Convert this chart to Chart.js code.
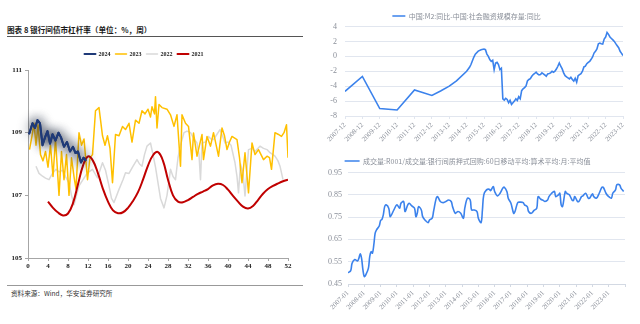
<!DOCTYPE html>
<html>
<head>
<meta charset="utf-8">
<script src="https://cdn.jsdelivr.net/npm/chart.js@4"></script>
<style>
  body { margin: 0; width: 640px; height: 324px; background: #fff; position: relative; overflow: hidden; }
  canvas { position: absolute; }
  #title { position: absolute; left: 7px; top: 24px; font: bold 7.6px "Noto Sans CJK SC"; color: #1a1a1a; white-space: nowrap; }
  #rule1 { position: absolute; left: 7px; top: 36px; width: 296px; height: 1px; background: #555; }
  #rule2 { position: absolute; left: 7px; top: 285px; width: 296px; height: 1px; background: #999; }
  #source { position: absolute; left: 11px; top: 288px; font: 6.6px "Noto Sans CJK SC"; color: #333; white-space: nowrap; }
</style>
</head>
<body>
<div id="title">图表 8 银行间债市杠杆率（单位：%，周）</div>
<div id="rule1"></div>
<canvas id="lev" width="300" height="234" style="left:0;top:46px"></canvas>
<div id="rule2"></div>
<div id="source">资料来源：Wind，华安证券研究所</div>
<canvas id="spread" width="330" height="150" style="left:310px;top:0"></canvas>
<canvas id="repo" width="330" height="174" style="left:310px;top:150px"></canvas>
<script>
// ---- left: bank bond-market leverage, by week ----
const weeks2024 = [0.2, 0.9, 1.4, 1.9, 2.4, 2.9, 3.4, 3.9, 4.4, 4.9, 5.5, 6.1, 6.6, 7.2, 7.8, 8.4, 9.0, 9.5, 10.0, 10.6, 11.1, 11.6];
const lev2024 = [108.95, 109.3, 109.15, 109.4, 109.3, 108.6, 108.85, 109.05, 108.65, 108.95, 108.75, 109.0, 108.85, 108.55, 108.7, 108.4, 108.55, 108.35, 108.4, 108.05, 108.2, 108.1];

const weeks2023 = [0.3, 0.8, 1.2, 1.6, 2.0, 2.5, 3.0, 3.5, 4.0, 4.5, 5.0, 5.5, 6.2, 6.7, 7.2, 7.7, 8.2, 8.7, 9.2, 9.6, 10.2, 10.7, 11.2, 11.9, 12.4, 12.9, 13.5, 14.2, 14.9, 15.4, 15.9, 16.4, 16.9, 17.5, 18.2, 18.9, 19.5, 20.2, 20.8, 21.5, 22.2, 22.8, 23.4, 24.0, 24.5, 24.8, 25.3, 25.5, 25.8, 26.2, 26.8, 27.8, 28.5, 29.2, 29.8, 30.5, 30.8, 31.5, 32.1, 32.8, 33.1, 33.8, 34.3, 34.8, 35.1, 35.8, 36.5, 37.1, 38.1, 38.8, 39.3, 39.8, 40.3, 40.8, 41.8, 42.3, 42.8, 43.4, 44.1, 44.8, 45.4, 46.1, 47.1, 47.8, 48.3, 48.7, 49.4, 50.0, 50.7, 51.2, 51.7, 52.0];
const lev2023 = [108.46, 108.9, 109.3, 108.6, 109.25, 108.3, 108.1, 108.4, 107.9, 108.6, 107.6, 108.8, 107.0, 108.4, 107.5, 108.3, 107.0, 108.2, 107.6, 107.2, 109.0, 108.6, 108.8, 107.5, 108.2, 108.3, 109.7, 109.8, 108.9, 108.6, 108.9, 108.5, 107.4, 108.94, 108.9, 109.2, 109.1, 109.3, 108.7, 109.4, 109.3, 109.7, 109.6, 109.75, 109.5, 109.83, 109.6, 110.15, 109.15, 109.9, 109.8, 109.75, 109.57, 109.2, 109.57, 107.93, 109.57, 109.3, 109.2, 108.14, 108.99, 108.25, 108.6, 108.94, 108.14, 108.88, 108.57, 109.0, 108.25, 109.15, 108.9, 108.46, 108.7, 108.88, 108.78, 108.2, 107.4, 108.36, 107.08, 108.67, 108.3, 108.46, 108.14, 108.25, 108.2, 107.83, 109.0, 108.95, 108.88, 109.0, 109.25, 108.2];

const weeks2022 = [1.6, 2.2, 2.9, 3.5, 4.2, 4.9, 5.6, 6.2, 6.9, 7.5, 8.2, 8.7, 9.2, 9.7, 10.2, 11.0, 11.9, 12.9, 13.9, 14.9, 15.5, 16.2, 16.7, 17.2, 18.2, 19.0, 19.5, 20.2, 20.9, 21.8, 22.3, 22.8, 23.3, 23.8, 24.5, 25.0, 25.5, 26.0, 26.5, 27.2, 27.8, 28.5, 29.0, 29.5, 30.0, 30.5, 31.2, 31.8, 32.5, 33.2, 33.8, 34.2, 34.5, 34.8, 35.5, 36.1, 36.6, 37.1, 37.8, 38.4, 38.9, 39.4, 40.0, 40.6, 41.4, 41.8, 42.1, 42.5, 43.0, 43.4, 44.1, 44.8, 45.4, 46.0, 46.4, 47.1, 47.8, 48.4, 49.0, 49.4, 50.0, 50.4, 51.0];
const lev2022 = [107.93, 107.7, 107.61, 107.55, 107.5, 107.7, 107.83, 107.75, 107.8, 107.6, 107.4, 107.0, 106.7, 107.0, 107.3, 107.5, 107.72, 107.83, 107.56, 108.04, 107.8, 107.3, 106.9, 106.77, 107.19, 107.5, 107.72, 107.7, 107.9, 108.14, 108.0, 107.93, 108.3, 108.57, 108.67, 108.3, 107.9, 107.4, 106.9, 106.6, 107.0, 107.83, 107.6, 107.5, 108.2, 108.6, 109.0, 109.05, 109.0, 108.8, 108.67, 108.3, 107.5, 108.67, 108.7, 108.88, 108.8, 108.78, 108.95, 109.1, 108.9, 108.67, 108.7, 108.6, 108.04, 107.6, 107.08, 108.0, 107.7, 106.98, 108.46, 108.5, 108.4, 108.5, 108.57, 108.5, 108.46, 108.36, 108.3, 108.25, 108.1, 107.93, 107.5];

const weeks2021 = [4, 5, 6, 7, 8, 9, 10, 11, 12, 13, 14, 15, 16, 17, 18, 19, 20, 21, 22, 23, 24, 25, 26, 27, 28, 29, 30, 31, 32, 33, 34, 35, 36, 37, 38, 39, 40, 41, 42, 43, 44, 45, 46, 47, 48, 49, 50, 51, 52];
const lev2021 = [106.8, 106.6, 106.45, 106.36, 106.42, 106.75, 107.35, 107.95, 108.24, 108.1, 107.7, 107.2, 106.8, 106.52, 106.43, 106.46, 106.6, 106.82, 107.1, 107.5, 107.95, 108.28, 108.38, 108.1, 107.5, 107.0, 106.8, 106.78, 106.85, 106.95, 107.05, 107.12, 107.2, 107.32, 107.37, 107.33, 107.18, 106.98, 106.8, 106.64, 106.58, 106.66, 106.85, 107.05, 107.2, 107.3, 107.38, 107.45, 107.5];

// ---- top right: M2 yoy minus social financing stock yoy ----
const spreadDates = ['2007-12', '2008-12', '2009-12', '2010-12', '2011-12', '2012-12', '2013-06', '2013-12', '2014-05', '2014-12',
  '2015-02', '2015-03', '2015-04', '2015-05', '2015-06', '2015-08', '2015-10', '2015-12',
  '2016-01', '2016-02', '2016-03', '2016-04', '2016-05', '2016-06', '2016-07', '2016-08', '2016-09', '2016-10', '2016-11', '2016-12',
  '2017-01', '2017-02', '2017-03', '2017-04', '2017-05', '2017-06', '2017-07', '2017-08', '2017-09', '2017-10', '2017-11', '2017-12',
  '2018-01', '2018-02', '2018-03', '2018-04', '2018-05', '2018-06', '2018-07', '2018-08', '2018-09', '2018-10', '2018-11', '2018-12',
  '2019-01', '2019-02', '2019-03', '2019-04', '2019-05', '2019-06', '2019-07', '2019-08', '2019-09', '2019-10', '2019-11', '2019-12',
  '2020-01', '2020-02', '2020-03', '2020-04', '2020-05', '2020-06', '2020-07', '2020-08', '2020-09', '2020-10', '2020-11', '2020-12',
  '2021-01', '2021-02', '2021-03', '2021-04', '2021-05', '2021-06', '2021-07', '2021-08', '2021-09', '2021-10', '2021-11', '2021-12',
  '2022-01', '2022-02', '2022-03', '2022-04', '2022-05', '2022-06', '2022-07', '2022-08', '2022-09', '2022-10', '2022-11', '2022-12',
  '2023-01', '2023-02', '2023-03', '2023-04', '2023-05', '2023-06', '2023-07', '2023-08', '2023-09', '2023-10', '2023-11', '2023-12'];
const spreadValues = [-4.7, -2.7, -7.0, -7.2, -4.5, -5.25, -4.65, -4.0, -3.3, -2.0,
  -1.47, -1.1, -0.6, -0.1, 0.3, 0.7, 0.89, 0.98,
  0.89, 0.3, 0.0, -0.44, -0.67, -0.53, -1.78, -0.89, -0.8, -1.1, -1.78, -1.6,
  -5.7, -5.87, -5.64, -5.78, -6.22, -5.91, -6.44, -6.22, -6.0, -5.69, -5.91, -5.42,
  -5.69, -4.6, -4.36, -4.2, -4.0, -3.3, -3.1, -3.0, -2.67, -2.44, -2.3, -2.13,
  -2.36, -2.5, -2.44, -2.22, -2.36, -2.5, -2.67, -2.36, -2.3, -2.22, -2.0, -2.13,
  -2.0, -1.7, -1.33, -0.89, -1.33, -1.69, -2.22, -2.6, -2.76, -2.89, -3.02, -2.8,
  -3.11, -3.33, -2.93, -3.47, -2.6, -2.44, -2.31, -2.0, -1.42, -1.33, -0.98, -0.8,
  -0.67, -0.4, -0.09, 0.44, 0.67, 1.0, 1.69, 1.78, 1.7, 1.64, 2.31, 2.58,
  3.2, 2.95, 2.6, 2.4, 2.2, 2.0, 1.7, 1.42, 1.15, 0.67, 0.4, 0.1];

// ---- bottom right: R001 share of interbank pledged repo volume ----
const repoDates = ['2007-01', '2007-03', '2007-04', '2007-06', '2007-08', '2007-09', '2007-10', '2007-11', '2007-12',
  '2008-01', '2008-02', '2008-04', '2008-05', '2008-06', '2008-07', '2008-08', '2008-09', '2008-10', '2008-12',
  '2009-01', '2009-02', '2009-03', '2009-04', '2009-05', '2009-07', '2009-08', '2009-09', '2009-11',
  '2010-01', '2010-03', '2010-04', '2010-06', '2010-07', '2010-09', '2010-10', '2010-12',
  '2011-02', '2011-03', '2011-04', '2011-05', '2011-07', '2011-08', '2011-10', '2011-12',
  '2012-01', '2012-03', '2012-04', '2012-06', '2012-07', '2012-09', '2012-11',
  '2013-01', '2013-03', '2013-05', '2013-06', '2013-08', '2013-10', '2013-12',
  '2014-02', '2014-03', '2014-05', '2014-07', '2014-08', '2014-10', '2014-12',
  '2015-01', '2015-03', '2015-04', '2015-05', '2015-07', '2015-09', '2015-10', '2015-12',
  '2016-01', '2016-03', '2016-05', '2016-07', '2016-08', '2016-10', '2016-11',
  '2017-01', '2017-03', '2017-04', '2017-06', '2017-08', '2017-10', '2017-11',
  '2018-01', '2018-02', '2018-04', '2018-06', '2018-08', '2018-09', '2018-11',
  '2019-01', '2019-02', '2019-04', '2019-05', '2019-07', '2019-09', '2019-10', '2019-12',
  '2020-01', '2020-02', '2020-03', '2020-05', '2020-06', '2020-08', '2020-10', '2020-11', '2020-12',
  '2021-02', '2021-03', '2021-05', '2021-06', '2021-08', '2021-10', '2021-11',
  '2022-01', '2022-02', '2022-04', '2022-06', '2022-08', '2022-09', '2022-11',
  '2023-01', '2023-03', '2023-04', '2023-06', '2023-07', '2023-09', '2023-10', '2023-12'];
const repoValues = [0.50, 0.51, 0.543, 0.56, 0.553, 0.565, 0.585, 0.565, 0.513,
  0.483, 0.49, 0.52, 0.573, 0.595, 0.588, 0.625, 0.678, 0.693, 0.71,
  0.735, 0.74, 0.76, 0.797, 0.805, 0.79, 0.752, 0.76, 0.785,
  0.805, 0.79, 0.812, 0.82, 0.775, 0.805, 0.812, 0.80,
  0.79, 0.752, 0.767, 0.797, 0.782, 0.752, 0.735, 0.725,
  0.737, 0.745, 0.775, 0.835, 0.842, 0.82, 0.815,
  0.82, 0.827, 0.82, 0.797, 0.767, 0.775, 0.767,
  0.745, 0.79, 0.835, 0.827, 0.782, 0.782, 0.775,
  0.745, 0.725, 0.782, 0.85, 0.872, 0.875, 0.869, 0.887,
  0.865, 0.845, 0.857, 0.88, 0.884, 0.865, 0.835,
  0.812, 0.767, 0.775, 0.815, 0.817, 0.815, 0.805,
  0.797, 0.775, 0.767, 0.78, 0.79, 0.842, 0.83,
  0.824, 0.82, 0.827, 0.842, 0.857, 0.865, 0.842, 0.85,
  0.857, 0.805, 0.797, 0.865, 0.857, 0.85, 0.827, 0.824, 0.842,
  0.82, 0.82, 0.842, 0.845, 0.857, 0.835, 0.835,
  0.854, 0.842, 0.835, 0.857, 0.884, 0.884, 0.857,
  0.842, 0.835, 0.857, 0.872, 0.895, 0.895, 0.88, 0.865];

const toMonth = s => { const [y, m] = s.split('-').map(Number); return y * 12 + m - 1; };
const pairs = (xs, ys) => xs.map((x, i) => ({ x, y: ys[i] }));
const monthPairs = (dates, ys, start) => dates.map((d, i) => ({ x: toMonth(d) - toMonth(start), y: ys[i] }));

// move the plot away from (or closer to) the legend
const legendGap = {
  id: 'legendGap',
  afterInit(chart) {
    const extra = chart.options.plugins.legendGap.extra;
    const fit = chart.legend.fit;
    chart.legend.fit = function () { fit.call(this); this.height += extra; };
  }
};

// grey halo round the 2024 line (line drawn twice so the shadow is darker)
const glow = {
  id: 'glow',
  beforeDatasetDraw(chart, args) {
    if (chart.data.datasets[args.index].glow) {
      chart.ctx.save();
      chart.ctx.shadowColor = 'rgba(30,40,60,1)';
      chart.ctx.shadowBlur = 12;
      args.meta.dataset.draw(chart.ctx, chart.chartArea);
    }
  },
  afterDatasetDraw(chart, args) {
    if (chart.data.datasets[args.index].glow) chart.ctx.restore();
  }
};

const serifBold = { family: 'Liberation Serif', size: 7, weight: 'bold' };

new Chart(document.getElementById('lev'), {
  type: 'line',
  data: {
    datasets: [
      { label: '2024', data: pairs(weeks2024, lev2024), borderColor: '#1f3a78', backgroundColor: '#1f3a78', borderWidth: 2, order: 0, glow: true },
      { label: '2023', data: pairs(weeks2023, lev2023), borderColor: '#ffc000', backgroundColor: '#ffc000', borderWidth: 1.5, order: 2 },
      { label: '2022', data: pairs(weeks2022, lev2022), borderColor: '#d9d9d9', backgroundColor: '#d9d9d9', borderWidth: 1.5, order: 3 },
      { label: '2021', data: pairs(weeks2021, lev2021), borderColor: '#c00000', backgroundColor: '#c00000', borderWidth: 2, tension: 0.4, order: 1 }
    ]
  },
  options: {
    responsive: false,
    animation: false,
    elements: { point: { radius: 0 }, line: { borderJoinStyle: 'round' } },
    layout: { padding: { left: 0, right: 12, top: 0, bottom: 0 } },
    plugins: {
      legend: { labels: { boxWidth: 11, boxHeight: 0, padding: 5, color: '#222', font: { family: 'Liberation Serif', size: 6, weight: 'bold' },
        sort: (a, b) => a.datasetIndex - b.datasetIndex } },
      legendGap: { extra: 3 },
      tooltip: { enabled: false }
    },
    scales: {
      x: {
        type: 'linear', min: 0, max: 52,
        ticks: { stepSize: 4, autoSkip: false, maxRotation: 0, padding: 1, color: '#222', font: serifBold },
        grid: { drawOnChartArea: false, tickLength: 3, color: '#a6a6a6' },
        border: { color: '#a6a6a6' },
        afterFit: s => { s.height = 22; }
      },
      y: {
        min: 105, max: 111,
        ticks: { stepSize: 2, padding: 3, color: '#222', font: serifBold },
        grid: { drawOnChartArea: false, tickLength: 3, color: '#a6a6a6' },
        border: { color: '#a6a6a6' },
        afterFit: s => { s.width = 28; }
      }
    }
  },
  plugins: [glow, legendGap]
});

const blue = '#3b82ec';
const gridBlue = '#e1e6ef';
const tickGrey = '#8a8f99';
const cjk = { family: 'Noto Sans CJK SC', size: 7 };
const serif = { family: 'Liberation Serif', size: 7 };

new Chart(document.getElementById('spread'), {
  type: 'line',
  data: {
    datasets: [{ label: '中国:M2:同比-中国:社会融资规模存量:同比', data: monthPairs(spreadDates, spreadValues, '2007-12'), borderColor: blue, backgroundColor: blue, borderWidth: 1.6 }]
  },
  options: {
    responsive: false,
    animation: false,
    elements: { point: { radius: 0 } },
    layout: { padding: { left: 0, right: 17, top: 7.5, bottom: 0 } },
    plugins: {
      legend: { labels: { boxWidth: 13, boxHeight: 0, padding: 5, color: tickGrey, font: cjk } },
      legendGap: { extra: -3 },
      tooltip: { enabled: false }
    },
    scales: {
      x: {
        type: 'linear', min: 0, max: 192,
        ticks: { stepSize: 12, autoSkip: false, minRotation: 45, maxRotation: 45, padding: 2, color: tickGrey, font: serif,
          callback: v => (2007 + v / 12) + '-12' },
        grid: { drawOnChartArea: false, tickLength: 3, color: gridBlue },
        border: { color: gridBlue },
        afterFit: s => { s.height = 34; }
      },
      y: {
        min: -8, max: 4,
        ticks: { stepSize: 2, padding: 8, color: tickGrey, font: { family: 'Liberation Serif', size: 8 } },
        grid: { color: gridBlue, drawTicks: false },
        border: { display: false },
        afterFit: s => { s.width = 35; }
      }
    }
  },
  plugins: [legendGap]
});

new Chart(document.getElementById('repo'), {
  type: 'line',
  data: {
    datasets: [{ label: '成交量:R001/成交量:银行间质押式回购:60日移动平均:算术平均:月:平均值', data: monthPairs(repoDates, repoValues, '2007-01'), borderColor: blue, backgroundColor: blue, borderWidth: 1.6, tension: 0.35 }]
  },
  options: {
    responsive: false,
    animation: false,
    elements: { point: { radius: 0 } },
    layout: { padding: { left: 0, right: 15, top: 2.5, bottom: 0 } },
    plugins: {
      legend: { labels: { boxWidth: 15, boxHeight: 0, padding: 5, color: tickGrey, font: cjk } },
      legendGap: { extra: -2 },
      tooltip: { enabled: false }
    },
    scales: {
      x: {
        type: 'linear', min: 0, max: 204,
        ticks: { stepSize: 12, autoSkip: false, minRotation: 45, maxRotation: 45, padding: 2, color: tickGrey, font: serif,
          callback: v => v < 204 ? (2007 + v / 12) + '-01' : '' },
        grid: { drawOnChartArea: false, tickLength: 3, color: '#d3d9e3' },
        border: { color: '#d3d9e3' },
        afterFit: s => { s.height = 40; }
      },
      y: {
        min: 0.45, max: 0.95,
        ticks: { stepSize: 0.05, padding: 6, color: tickGrey, font: { family: 'Liberation Serif', size: 8 }, callback: v => v.toFixed(2) },
        grid: { color: gridBlue, drawTicks: false },
        border: { display: false },
        afterFit: s => { s.width = 38; }
      }
    }
  },
  plugins: [legendGap]
});
</script>
</body>
</html>
